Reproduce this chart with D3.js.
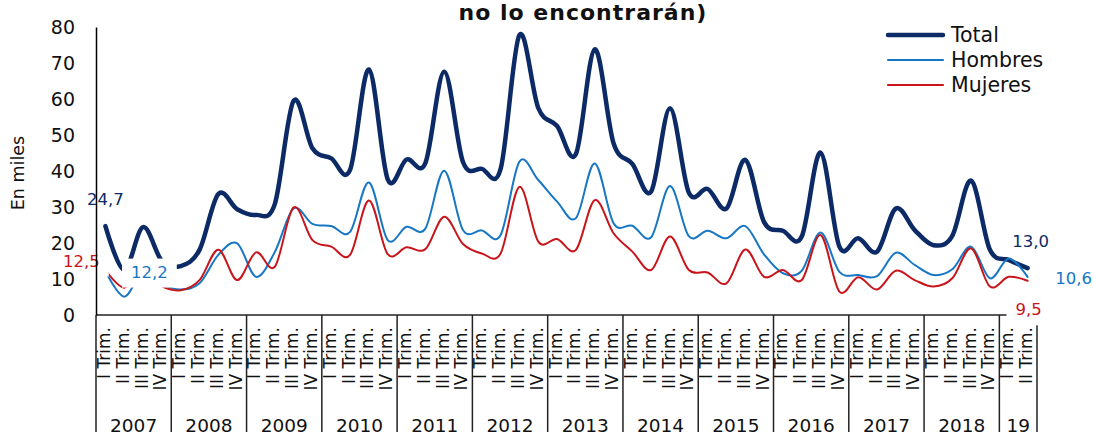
<!DOCTYPE html>
<html>
<head>
<meta charset="utf-8">
<script src="https://cdn.jsdelivr.net/npm/d3@7"></script>
<style>
  body { margin: 0; background: #fff; }
  svg { display: block; font-family: 'DejaVu Sans', sans-serif; }
</style>
</head>
<body>
<div id="chart"></div>
<script>
// Quarterly series, thousands of people (2007 I Trim. .. 2019 II Trim.)
const years = ['2007', '2008', '2009', '2010', '2011', '2012', '2013', '2014', '2015', '2016', '2017', '2018', '19'];
const quartersPerYear = [4, 4, 4, 4, 4, 4, 4, 4, 4, 4, 4, 4, 2];
const quarterNames = ['I Trim.', 'II Trim.', 'III Trim.', 'IV Trim.'];
const yTicks = [0, 10, 20, 30, 40, 50, 60, 70, 80];

const total = [24.7, 12.5, 24.4, 15.0, 13.6, 18.1, 33.6, 29.4, 27.8, 30.8,
    59.5, 46.3, 43.5, 40.3, 68.2, 37.7, 43.2, 42.2, 67.6, 42.5,
    40.6, 40.6, 77.8, 57.5, 52.5, 44.7, 73.8, 47.7, 42.0, 34.3,
    57.4, 34.0, 35.0, 29.6, 43.1, 25.8, 23.4, 21.8, 45.1, 19.0,
    21.3, 17.6, 29.6, 23.6, 19.4, 22.0, 37.3, 18.1, 15.3, 13.0];
const hombres = [12.2, 5.1, 12.0, 8.5, 7.1, 8.8, 16.7, 19.9, 10.6, 17.5,
    29.6, 25.3, 24.7, 23.1, 36.8, 20.8, 24.5, 24.0, 40.1, 23.6,
    23.5, 22.2, 42.6, 37.5, 31.5, 26.9, 42.1, 25.5, 24.8, 21.6,
    35.8, 21.9, 23.4, 21.3, 24.7, 16.8, 11.6, 12.3, 22.9, 12.0,
    11.1, 10.8, 17.3, 13.9, 11.1, 12.7, 19.0, 10.2, 15.7, 10.6];
const mujeres = [12.5, 7.6, 12.4, 8.0, 6.9, 9.7, 18.1, 9.7, 17.4, 13.4,
    29.9, 20.8, 19.0, 16.7, 31.8, 16.9, 18.8, 18.3, 27.3, 19.7,
    17.1, 17.1, 35.6, 20.4, 21.1, 18.1, 31.9, 22.7, 17.6, 12.5,
    21.8, 12.5, 11.8, 8.8, 18.2, 10.6, 12.5, 9.7, 22.2, 6.5,
    10.5, 7.1, 12.3, 9.7, 7.9, 10.2, 18.5, 7.9, 10.6, 9.5];

const width = 1093, height = 432;
const margin = { left: 96, right: 56, top: 27, bottom: 117 };

const series = [
    { name: 'Total', values: total, color: '#0b2a66', width: 4.5,
      first: [0, -27], last: [3, -27] },
    { name: 'Hombres', values: hombres, color: '#1777c4', width: 2,
      first: [44, 1], last: [46, 2] },
    { name: 'Mujeres', values: mujeres, color: '#c8141b', width: 2,
      first: [-24, -9], last: [1, 29] }
];

// one category per quarter
const categories = years.flatMap((y, yi) =>
    quarterNames.slice(0, quartersPerYear[yi]).map(q => ({ year: y, quarter: q })));

const svg = d3.select('#chart').append('svg')
    .attr('width', width)
    .attr('height', height);

const x = d3.scaleBand()
    .domain(d3.range(categories.length))
    .range([margin.left, width - margin.right])
    .padding(0);

const y = d3.scaleLinear()
    .domain([0, 80])
    .range([height - margin.bottom, margin.top]);

const fmt = v => d3.format('.1f')(v).replace('.', ',');
const cx = i => x(i) + x.bandwidth() / 2;

// title (second line, first one is cut off)
svg.append('text')
    .attr('x', 583)
    .attr('y', 20)
    .attr('text-anchor', 'middle')
    .attr('font-weight', 'bold')
    .attr('font-size', 22)
    .attr('letter-spacing', 1)
    .attr('fill', '#111')
    .text('no lo encontrarán)');

svg.append('text')
    .attr('transform', `translate(18,${(margin.top + height - margin.bottom) / 2 + 2}) rotate(-90)`)
    .attr('text-anchor', 'middle')
    .attr('dominant-baseline', 'central')
    .attr('font-size', 17.5)
    .attr('fill', '#111')
    .text('En miles');

// x axis: baseline, year separators, quarter and year labels
const x0 = margin.left, x1 = width - margin.right;
const y0 = y(0);
svg.append('line')
    .attr('x1', x0).attr('x2', x1)
    .attr('y1', y0).attr('y2', y0)
    .attr('stroke', '#222').attr('stroke-width', 1.5);

let start = 0;
const yearSpans = years.map((yr, yi) => {
    const span = { year: yr, from: x(start), to: x(start + quartersPerYear[yi] - 1) + x.bandwidth() };
    start += quartersPerYear[yi];
    return span;
});

const sepX = [yearSpans[0].from, ...yearSpans.map(s => s.to)];
svg.append('g').selectAll('line')
    .data(sepX)
    .enter()
    .append('line')
    .attr('x1', d => d).attr('x2', d => d)
    .attr('y1', y0).attr('y2', height)
    .attr('stroke', '#222').attr('stroke-width', 1.5);

svg.append('g').selectAll('text')
    .data(categories)
    .enter()
    .append('text')
    .attr('transform', (d, i) => `translate(${cx(i) - 1.5},${y0 + 12}) rotate(-90)`)
    .attr('text-anchor', 'end')
    .attr('dominant-baseline', 'central')
    .attr('font-size', 17)
    .attr('fill', '#111')
    .text(d => d.quarter);

svg.append('g').selectAll('text')
    .data(yearSpans)
    .enter()
    .append('text')
    .attr('x', d => (d.from + d.to) / 2)
    .attr('y', 432)
    .attr('text-anchor', 'middle')
    .attr('font-size', 18.5)
    .attr('fill', '#111')
    .text(d => d.year);

// smoothed lines
const line = d3.line()
    .x((d, i) => cx(i))
    .y(d => y(d))
    .curve(d3.curveCardinal.tension(0));

svg.append('g').selectAll('path')
    .data(series)
    .enter()
    .append('path')
    .attr('d', d => line(d.values))
    .attr('fill', 'none')
    .attr('stroke', d => d.color)
    .attr('stroke-width', d => d.width)
    .attr('stroke-linejoin', 'round')
    .attr('stroke-linecap', 'round');

// data labels on first and last points, white box behind
const last = categories.length - 1;
const labels = series.flatMap(s => [
    { s, i: 0, off: s.first },
    { s, i: last, off: s.last }
]);
const lab = svg.append('g').selectAll('g')
    .data(labels)
    .enter()
    .append('g')
    .attr('transform', d => `translate(${cx(d.i) + d.off[0]},${y(d.s.values[d.i]) + d.off[1]})`);
const labRect = lab.append('rect').attr('fill', '#fff');
lab.append('text')
    .attr('text-anchor', 'middle')
    .attr('dominant-baseline', 'central')
    .attr('font-size', 16.5)
    .attr('fill', d => d.s.color)
    .text(d => fmt(d.s.values[d.i]));
labRect.each(function() {
    const b = this.parentNode.querySelector('text').getBBox();
    d3.select(this)
        .attr('x', b.x - 9).attr('y', b.y - 4)
        .attr('width', b.width + 18).attr('height', b.height + 10);
});

// y axis drawn last so the tick labels stay on top
const yAxis = svg.append('g')
    .attr('transform', `translate(${margin.left},0)`)
    .call(d3.axisLeft(y).tickValues(yTicks).tickSize(0).tickPadding(21));
yAxis.select('.domain').attr('stroke', '#000').attr('stroke-width', 1.5);
yAxis.selectAll('text')
    .attr('font-size', 19)
    .attr('fill', '#111')
    .attr('font-family', 'DejaVu Sans, sans-serif');

// legend
const legend = svg.append('g')
    .attr('transform', 'translate(888,35)');
const item = legend.selectAll('g')
    .data(series)
    .enter()
    .append('g')
    .attr('transform', (d, i) => `translate(0,${i * 25})`);
item.append('line')
    .attr('x1', 0).attr('x2', 55)
    .attr('stroke', d => d.color)
    .attr('stroke-width', d => d.width === 2 ? 2.2 : 4.5)
    .attr('stroke-linecap', 'round');
item.append('text')
    .attr('x', 63)
    .attr('dominant-baseline', 'central')
    .attr('font-size', 20.5)
    .attr('fill', '#111')
    .text(d => d.name);
</script>
</body>
</html>
